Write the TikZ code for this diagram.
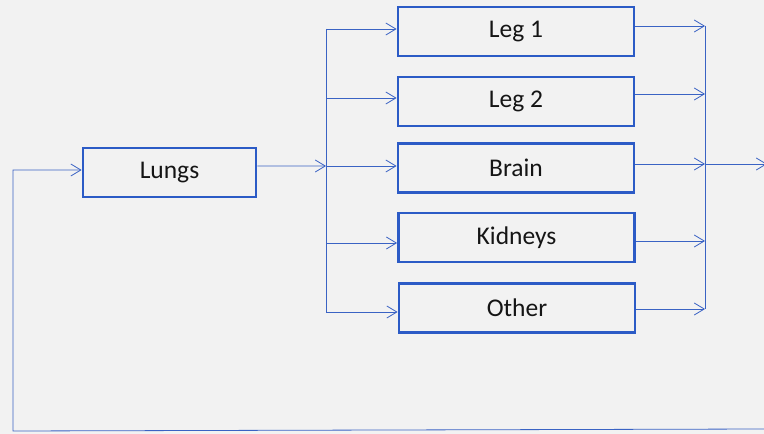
\documentclass[tikz,border=0pt]{standalone}
\usepackage{fontspec}
\setmainfont{Carlito}
\usetikzlibrary{arrows.meta}
\definecolor{paper}{HTML}{F2F2F2}
\definecolor{boxblue}{HTML}{2C5BC6}
\definecolor{lineblue}{HTML}{3A63C4}
\definecolor{ink}{HTML}{151515}
\tikzset{
  organ/.style={draw=boxblue, line width=2.8bp, minimum width=236bp, minimum height=49bp,
    inner sep=0pt, font=\fontsize{25.5bp}{30bp}\selectfont, text=ink},
  flow/.style={draw=lineblue, line width=0.8bp,
    -{Straight Barb[length=10bp,width=12bp,line width=0.8bp]}},
  plain/.style={draw=lineblue, line width=0.8bp}
}
\begin{document}
\begin{tikzpicture}[x=1bp,y=-1bp]
\fill[paper] (0,0) rectangle (764,434);
\useasboundingbox (0,0) rectangle (764,434);
% boxes
\node[organ, minimum width=173bp] (lungs) at (169.5,172.5) {Lungs};
\node[organ] (leg1) at (516,31.5) {Leg 1};
\node[organ] (leg2) at (516,101.5) {Leg 2};
\node[organ] (brain) at (516,168) {Brain};
\node[organ] (kid) at (516.5,237.5) {Kidneys};
\node[organ] (oth) at (517,308) {Other};
% splitter and merger coordinates
\coordinate (sTop) at (326,29);
\coordinate (sBot) at (326,312);
\coordinate (mTop) at (705,26);
\coordinate (mBot) at (705,309);
\coordinate (sMid) at (326,166);
\coordinate (mMid) at (705,164);
\coordinate (outR) at (767,164);
\coordinate (retR) at (764,429);
\coordinate (retL) at (13,431);
\coordinate (retU) at (13,170);
% left splitter
\draw[plain] (sTop) -- (sBot);
\draw[flow] ([yshift=6.5bp]lungs.east) -- (sMid);
\draw[flow] (sTop) -- (sTop -| leg1.west);
\draw[flow] (326,98) -- (leg2.west |- 0,98);
\draw[flow] (sMid) -- (sMid -| brain.west);
\draw[flow] (326,243) -- (kid.west |- 0,243);
\draw[flow] (sBot) -- (sBot -| oth.west);
% right merger
\draw[plain] (mTop) -- (mBot);
\draw[flow] (mTop -| leg1.east) -- (mTop);
\draw[flow] (leg2.east |- 0,94) -- (705,94);
\draw[flow] (mMid -| brain.east) -- (mMid);
\draw[flow] (mMid) -- (outR);
\draw[flow] (kid.east |- 0,241) -- (705,241);
\draw[flow] (mBot -| oth.east) -- (mBot);
% return path
\draw[flow] (retR) -- (retL) -- (retU) -- (retU -| lungs.west);
\end{tikzpicture}
\end{document}
